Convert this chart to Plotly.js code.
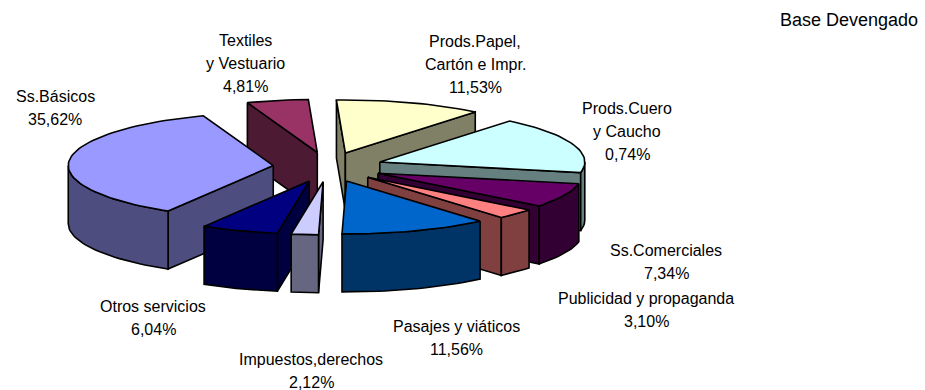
<!DOCTYPE html>
<html><head><meta charset="utf-8">
<script src="https://cdn.plot.ly/plotly-3.0.1.min.js"></script>
<style>html,body{margin:0;padding:0;background:#fff}#c{width:925px;height:390px}</style>
</head><body><div id="c"></div>
<script>
// Data, clockwise from the top of the pie
const categories = ["Prods.Papel,\nCartón e Impr.","Prods.Cuero\ny Caucho","Ss.Comerciales","Publicidad y propaganda","Pasajes y viáticos","Impuestos,derechos","Otros servicios","Ss.Básicos","Textiles\ny Vestuario"];
const sliceShares = [11.53,17.14,7.34,3.10,11.56,2.12,6.04,35.62,4.81];
const printedLabels = ["11,53%","0,74%","7,34%","3,10%","11,56%","2,12%","6,04%","35,62%","4,81%"];

// Styles and geometry, in pixels of the page
const topColors = ["#FFFFCC","#CCFFFF","#660066","#FF8080","#0066CC","#CCCCFF","#000080","#9999FF","#993366"];
const wallColors = ["#808066","#668080","#330033","#804040","#003366","#666680","#000040","#4D4D80","#4D1A33"];
const labelAnchors = [[475,41],[627,108],[666,250],[646,298],[456,326],[311,359],[153,306],[55,96],[245,40]];
const geo = {cx:328, cy:167, a:205, b:53, ex:55, ey:14.8, h:58, start:92.5};
const lineH = 23, fontPx = 16, noteFontPx = 18;
const FONT = "Liberation Sans, Arial, sans-serif";

const rad = d => d*Math.PI/180;
const total = sliceShares.reduce((s,v)=>s+v,0);
let cursor = geo.start;
const wedges = sliceShares.map((v,i)=>{
  const t1 = cursor, t2 = cursor - v/total*360; cursor = t2;
  const mid = (t1+t2)/2;
  return {i,t1,t2,mid,vx:geo.cx+geo.ex*Math.cos(rad(mid)),vy:geo.cy-geo.ey*Math.sin(rad(mid))};
});
const rim = (w,t)=>[w.vx+geo.a*Math.cos(rad(t)), w.vy-geo.b*Math.sin(rad(t))];
function poly(pts,fill){
  const p = pts.concat([pts[0]]);
  return {type:"scatter",mode:"lines",x:p.map(q=>q[0]),y:p.map(q=>q[1]),fill:"toself",fillcolor:fill,
    line:{color:"#000",width:1.6},hoverinfo:"skip",showlegend:false};
}
const traces = [];
// back to front
const order = wedges.slice().sort((p,q)=>Math.sin(rad(q.mid))-Math.sin(rad(p.mid)));
order.forEach(w=>{
  const wall = wallColors[w.i], h = geo.h, V=[w.vx,w.vy];
  const down = q=>[q[0],q[1]+h];
  const radial = t=>{const P=rim(w,t);traces.push(poly([V,P,down(P),down(V)],wall));};
  if(Math.cos(rad(w.t1))<0) radial(w.t1);
  if(Math.cos(rad(w.t2))>0) radial(w.t2);
  // outer wall: the part of the rim that faces the viewer
  const arcs=[];
  for(const k of [0,-360]){
    const hi=Math.min(w.t1,0+k), lo=Math.max(w.t2,-180+k);
    if(hi>lo) arcs.push([hi,lo]);
  }
  arcs.forEach(([hi,lo])=>{
    const n=Math.max(4,Math.ceil((hi-lo)/2)),up=[],dn=[];
    for(let j=0;j<=n;j++){const q=rim(w,hi-(hi-lo)*j/n);up.push(q);dn.unshift(down(q));}
    traces.push(poly(up.concat(dn),wall));
  });
  // top face
  const n=Math.ceil((w.t1-w.t2)/2),pts=[V];
  for(let j=0;j<=n;j++)pts.push(rim(w,w.t1-(w.t1-w.t2)*j/n));
  traces.push(poly(pts,topColors[w.i]));
});

const annotations=[];
const put=(x,y,text,xanchor,size)=>annotations.push({x,y,text,xref:"x",yref:"y",xanchor,yanchor:"middle",showarrow:false,
  font:{family:FONT,size:size,color:"#000"}});
categories.forEach((c,i)=>{
  const lines=c.split("\n").concat([printedLabels[i]]);
  lines.forEach((t,k)=>put(labelAnchors[i][0],labelAnchors[i][1]+k*lineH,t,"center",fontPx));
});
put(920,20,"Base Devengado","right",noteFontPx);

Plotly.newPlot("c",traces,{
  width:925,height:390,margin:{l:0,r:0,t:0,b:0},paper_bgcolor:"#fff",plot_bgcolor:"#fff",
  xaxis:{range:[0,925],visible:false,fixedrange:true},
  yaxis:{range:[390,0],visible:false,fixedrange:true},
  annotations,showlegend:false
},{staticPlot:true,displayModeBar:false});
</script></body></html>
